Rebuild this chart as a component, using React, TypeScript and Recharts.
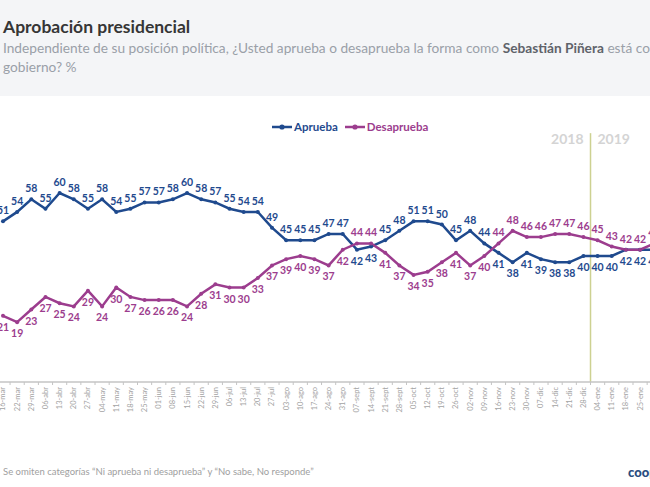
import React from 'react';
import {
  LineChart,
  Line,
  XAxis,
  YAxis,
  LabelList,
  ReferenceLine,
  ReferenceDot,
  Legend,
} from 'recharts';

const categories = [
  '16-mar', '22-mar', '29-mar', '06-abr', '13-abr', '20-abr', '27-abr', '04-may', '11-may', '18-may',
  '25-may', '01-jun', '08-jun', '15-jun', '22-jun', '29-jun', '06-jul', '13-jul', '20-jul', '27-jul',
  '03-ago', '10-ago', '17-ago', '24-ago', '31-ago', '07-sept', '14-sept', '21-sept', '28-sept', '05-oct',
  '12-oct', '19-oct', '26-oct', '02-nov', '09-nov', '16-nov', '23-nov', '30-nov', '07-dic', '14-dic',
  '21-dic', '28-dic', '04-ene', '11-ene', '18-ene', '25-ene', '01-feb',
];

const aprueba = [
  51, 54, 58, 55, 60, 58, 55, 58, 54, 55,
  57, 57, 58, 60, 58, 57, 55, 54, 54, 49,
  45, 45, 45, 47, 47, 42, 43, 45, 48, 51,
  51, 50, 45, 48, 44, 41, 38, 41, 39, 38,
  38, 40, 40, 40, 42, 42, 42,
];

const desaprueba = [
  21, 19, 23, 27, 25, 24, 29, 24, 30, 27,
  26, 26, 26, 24, 28, 31, 30, 30, 33, 37,
  39, 40, 39, 37, 42, 44, 44, 41, 37, 34,
  35, 38, 41, 37, 40, 44, 48, 46, 46, 47,
  47, 46, 45, 43, 42, 42, 44,
];

const seriesNames = ['Aprueba', 'Desaprueba'];
const yearLabels = ['2018', '2019'];
const yearBreakIndex = 41.5;

const BLUE = '#1F4A8E';
const PURPLE = '#9C3D8E';
const FONT = 'Lato, "Open Sans", sans-serif';

const CHART_W = 682;
const CHART_H = 360;
const MARGIN = { top: 18.5, right: 10.7, bottom: 18, left: 5.92 };
const N = categories.length;
const BAND = (CHART_W - MARGIN.left - MARGIN.right) / N;

const data = categories.map((c, i) => ({ i, label: c, a: aprueba[i], d: desaprueba[i] }));

function XTick(props: any) {
  const { x, y, payload } = props;
  const i = payload.value as number;
  return (
    <g>
      <line x1={x - BAND / 2} x2={x - BAND / 2} y1={y} y2={y + 3} stroke="#c4c4c4" strokeWidth={1} />
      {i === N - 1 && (
        <line x1={x + BAND / 2} x2={x + BAND / 2} y1={y} y2={y + 3} stroke="#c4c4c4" strokeWidth={1} />
      )}
      <text
        x={x}
        y={y + 5}
        transform={`rotate(-90, ${x}, ${y + 5})`}
        textAnchor="end"
        dy="0.33em"
        fontSize={7.5}
        fontFamily={FONT}
        fill="#a3a3a3"
      >
        {categories[i]}
      </text>
    </g>
  );
}

const makeLabel = (color: string, own: 'a' | 'd') => (props: any) => {
  const { x, y, value } = props;
  let index = props.index;
  if (index === undefined || index === null) {
    index = Math.round((x - MARGIN.left) / BAND - 0.5);
  }
  const av = aprueba[index];
  const dv = desaprueba[index];
  const top = own === 'd' ? dv >= av : av > dv;
  return (
    <text
      x={x}
      y={top ? y - 7 : y + 15}
      textAnchor="middle"
      fill={color}
      fontSize={10.5}
      fontWeight={700}
      fontFamily={FONT}
    >
      {value}
    </text>
  );
};

function LegendContent() {
  const items = [
    { name: seriesNames[0], color: BLUE },
    { name: seriesNames[1], color: PURPLE },
  ];
  return (
    <div style={{ display: 'flex', alignItems: 'center', fontFamily: FONT }}>
      {items.map((it, k) => (
        <div key={it.name} style={{ display: 'flex', alignItems: 'center', marginRight: k === 0 ? 7 : 0 }}>
          <svg width={20} height={10} style={{ display: 'block' }}>
            <line x1={0} x2={20} y1={5} y2={5} stroke={it.color} strokeWidth={2.5} />
            <circle cx={10} cy={5} r={2.6} fill={it.color} />
          </svg>
          <span style={{ color: it.color, fontSize: 11.5, fontWeight: 700, marginLeft: 2 }}>{it.name}</span>
        </div>
      ))}
    </div>
  );
}

export default function App() {
  return (
    <div
      style={{
        position: 'absolute',
        left: 0,
        top: 0,
        width: 650,
        height: 487,
        overflow: 'hidden',
        background: '#ffffff',
        fontFamily: FONT,
      }}
    >
      <div style={{ position: 'absolute', left: 0, top: 0, width: 650, height: 96, background: '#f4f5f7' }} />
      <div
        style={{
          position: 'absolute',
          left: 3,
          top: 16,
          fontSize: 17.5,
          fontWeight: 700,
          color: '#363636',
          whiteSpace: 'nowrap',
          lineHeight: '22px',
        }}
      >
        Aprobación presidencial
      </div>
      <div
        style={{
          position: 'absolute',
          left: 3,
          top: 38,
          fontSize: 13.7,
          color: '#9aa0a8',
          whiteSpace: 'nowrap',
          lineHeight: '19px',
        }}
      >
        <div>
          Independiente de su posición política, ¿Usted aprueba o desaprueba la forma como{' '}
          <b style={{ color: '#5f636a' }}>Sebastián Piñera</b> está conduciendo su
        </div>
        <div>gobierno? %</div>
      </div>

      <div style={{ position: 'absolute', left: -10, top: 80 }}>
        <LineChart width={CHART_W} height={CHART_H} data={data} margin={MARGIN}>
          <XAxis
            dataKey="i"
            type="number"
            domain={[-0.5, N - 0.5]}
            allowDataOverflow
            ticks={data.map((d) => d.i)}
            interval={0}
            tickLine={false}
            tickSize={0}
            tickMargin={0}
            axisLine={{ stroke: '#c4c4c4', strokeWidth: 1.5 }}
            tick={<XTick />}
            height={40}
          />
          <YAxis hide domain={[0, 90]} allowDataOverflow />
          <Legend
            layout="horizontal"
            verticalAlign="middle"
            align="center"
            content={<LegendContent />}
            wrapperStyle={{ position: 'absolute', left: 282, top: 40, width: 'auto', height: 'auto' }}
          />
          <ReferenceLine
            segment={[
              { x: yearBreakIndex, y: 0 },
              { x: yearBreakIndex, y: 79 },
            ]}
            stroke="#cdd191"
            strokeWidth={1.5}
          />
          <ReferenceDot
            x={yearBreakIndex}
            y={77.2}
            r={0}
            fill="none"
            stroke="none"
            label={{ value: yearLabels[0], position: 'left', offset: 7, fill: '#d4d4d4', fontSize: 14, fontWeight: 700, fontFamily: FONT }}
          />
          <ReferenceDot
            x={yearBreakIndex}
            y={77.2}
            r={0}
            fill="none"
            stroke="none"
            label={{ value: yearLabels[1], position: 'right', offset: 7, fill: '#d4d4d4', fontSize: 14, fontWeight: 700, fontFamily: FONT }}
          />
          <Line
            type="linear"
            dataKey="a"
            name={seriesNames[0]}
            stroke={BLUE}
            strokeWidth={2.5}
            dot={{ r: 2, fill: BLUE, stroke: BLUE, strokeWidth: 0 }}
            isAnimationActive={false}
          >
            <LabelList dataKey="a" content={makeLabel(BLUE, 'a')} />
          </Line>
          <Line
            type="linear"
            dataKey="d"
            name={seriesNames[1]}
            stroke={PURPLE}
            strokeWidth={2.5}
            dot={{ r: 2, fill: PURPLE, stroke: PURPLE, strokeWidth: 0 }}
            isAnimationActive={false}
          >
            <LabelList dataKey="d" content={makeLabel(PURPLE, 'd')} />
          </Line>
        </LineChart>
      </div>

      <div
        style={{
          position: 'absolute',
          left: 3,
          top: 466,
          fontSize: 9.5,
          color: '#a0a0a0',
          whiteSpace: 'nowrap',
        }}
      >
        Se omiten categorías “Ni aprueba ni desaprueba” y “No sabe, No responde”
      </div>
      <div
        style={{
          position: 'absolute',
          left: 628,
          top: 464,
          fontSize: 13,
          fontWeight: 900,
          color: '#2a4d7f',
          whiteSpace: 'nowrap',
        }}
      >
        cooperativa
      </div>
    </div>
  );
}
